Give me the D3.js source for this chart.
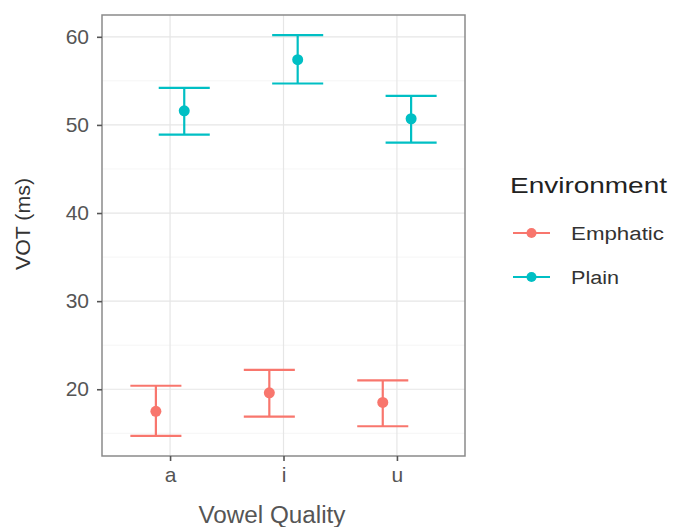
<!DOCTYPE html>
<html>
<head>
<meta charset="utf-8">
<script src="https://cdn.jsdelivr.net/npm/d3@7"></script>
<style>
  html, body { margin: 0; padding: 0; background: #fff; }
  svg { display: block; font-family: "Liberation Sans", Arial, sans-serif; }
</style>
</head>
<body>
<svg id="chart" width="673" height="527"></svg>
<script>
// ---- data ----
const vowels = ["a", "i", "u"];
const environments = ["Emphatic", "Plain"];
const emphaticMean = [17.5, 19.6, 18.5];
const emphaticLow  = [14.7, 16.9, 15.8];
const emphaticHigh = [20.4, 22.2, 21.0];
const plainMean = [51.6, 57.4, 50.7];
const plainLow  = [48.9, 54.7, 48.0];
const plainHigh = [54.2, 60.2, 53.3];
const yTicks = [20, 30, 40, 50, 60];
const yMinor = [15, 25, 35, 45, 55];
const envColors = ["#F8766D", "#00BFC4"];

const rows = [];
vowels.forEach((v, i) => {
  rows.push({ vowel: v, env: "Emphatic", mean: emphaticMean[i], low: emphaticLow[i], high: emphaticHigh[i] });
  rows.push({ vowel: v, env: "Plain", mean: plainMean[i], low: plainLow[i], high: plainHigh[i] });
});

// ---- layout ----
const svg = d3.select("#chart");
const panel = { left: 102, top: 15, right: 465, bottom: 456 };

const x = d3.scalePoint().domain(vowels).range([panel.left, panel.right]).padding(0.6);
const dmin = d3.min(rows, d => d.low), dmax = d3.max(rows, d => d.high);
const ex = (dmax - dmin) * 0.05;
const y = d3.scaleLinear().domain([dmin - ex, dmax + ex]).range([panel.bottom, panel.top]);
const color = d3.scaleOrdinal().domain(environments).range(envColors);

const step = x.step();
const dodge = d3.scalePoint().domain(environments).range([-0.125 * step, 0.125 * step]);
const capHalf = 0.225 * step;

// grid
const g = svg.append("g");
g.selectAll("line.minor").data(yMinor).join("line")
  .attr("x1", panel.left).attr("x2", panel.right)
  .attr("y1", d => y(d)).attr("y2", d => y(d))
  .attr("stroke", "#f2f2f2").attr("stroke-width", 0.8);
g.selectAll("line.major").data(yTicks).join("line")
  .attr("x1", panel.left).attr("x2", panel.right)
  .attr("y1", d => y(d)).attr("y2", d => y(d))
  .attr("stroke", "#e6e6e6").attr("stroke-width", 1.2);
g.selectAll("line.vmajor").data(vowels).join("line")
  .attr("x1", d => x(d)).attr("x2", d => x(d))
  .attr("y1", panel.top).attr("y2", panel.bottom)
  .attr("stroke", "#e6e6e6").attr("stroke-width", 1.2);

// error bars
const eb = svg.append("g").selectAll("g").data(rows).join("g")
  .attr("stroke", d => color(d.env)).attr("stroke-width", 2.2);
eb.append("line")
  .attr("x1", d => x(d.vowel) + dodge(d.env)).attr("x2", d => x(d.vowel) + dodge(d.env))
  .attr("y1", d => y(d.low)).attr("y2", d => y(d.high));
eb.append("line")
  .attr("x1", d => x(d.vowel) + dodge(d.env) - capHalf).attr("x2", d => x(d.vowel) + dodge(d.env) + capHalf)
  .attr("y1", d => y(d.low)).attr("y2", d => y(d.low));
eb.append("line")
  .attr("x1", d => x(d.vowel) + dodge(d.env) - capHalf).attr("x2", d => x(d.vowel) + dodge(d.env) + capHalf)
  .attr("y1", d => y(d.high)).attr("y2", d => y(d.high));
svg.append("g").selectAll("circle").data(rows).join("circle")
  .attr("cx", d => x(d.vowel) + dodge(d.env)).attr("cy", d => y(d.mean))
  .attr("r", 5.5).attr("fill", d => color(d.env));

// panel border
svg.append("rect")
  .attr("x", panel.left).attr("y", panel.top)
  .attr("width", panel.right - panel.left).attr("height", panel.bottom - panel.top)
  .attr("fill", "none").attr("stroke", "#8a8a8a").attr("stroke-width", 1.5);

// axes
const yAxis = svg.append("g").attr("transform", `translate(${panel.left},0)`)
  .call(d3.axisLeft(y).tickValues(yTicks).tickSize(5).tickPadding(8));
const xAxis = svg.append("g").attr("transform", `translate(0,${panel.bottom})`)
  .call(d3.axisBottom(x).tickSize(5).tickPadding(7));
[yAxis, xAxis].forEach(a => {
  a.select(".domain").remove();
  a.selectAll(".tick line").attr("stroke", "#555").attr("stroke-width", 1.6);
  a.selectAll(".tick text").attr("fill", "#555")
    .style("font-family", "'Liberation Sans', Arial, sans-serif").style("font-size", "21px");
});
xAxis.selectAll(".tick text").attr("dy", "0.68em");

// axis titles
svg.append("text")
  .attr("x", 272).attr("y", 523).attr("text-anchor", "middle")
  .attr("fill", "#555").style("font-size", "23px")
  .attr("textLength", 147).attr("lengthAdjust", "spacingAndGlyphs")
  .text("Vowel Quality");
svg.append("text")
  .attr("transform", "translate(30,224) rotate(-90)").attr("text-anchor", "middle")
  .attr("fill", "#333").style("font-size", "20px")
  .attr("textLength", 92).attr("lengthAdjust", "spacingAndGlyphs")
  .text("VOT (ms)");

// legend
const leg = svg.append("g");
leg.append("text").attr("x", 510).attr("y", 193)
  .attr("fill", "#222").style("font-size", "22px")
  .attr("textLength", 157).attr("lengthAdjust", "spacingAndGlyphs")
  .text("Environment");
const keyY = d3.scalePoint().domain(environments).range([233, 277]);
const labelLen = [93, 48];
const items = leg.selectAll("g.item").data(environments).join("g")
  .attr("transform", d => `translate(0,${keyY(d)})`);
items.append("line").attr("x1", 513).attr("x2", 550).attr("y1", 0).attr("y2", 0)
  .attr("stroke", d => color(d)).attr("stroke-width", 2.2);
items.append("circle").attr("cx", 531.5).attr("cy", 0).attr("r", 5)
  .attr("fill", d => color(d));
items.append("text").attr("x", 571).attr("y", 7)
  .attr("fill", "#333").style("font-size", "18px")
  .attr("textLength", (d, i) => labelLen[i]).attr("lengthAdjust", "spacingAndGlyphs")
  .text(d => d);
</script>
</body>
</html>
